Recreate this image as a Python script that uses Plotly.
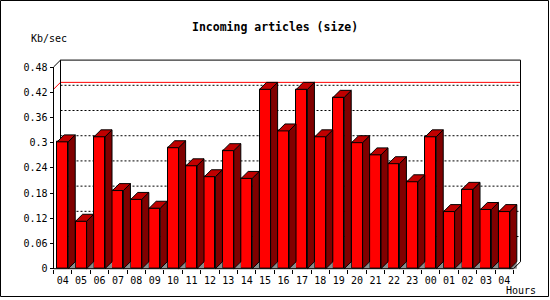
import plotly.graph_objects as go

# ---------------- data ----------------
hours = ["04", "05", "06", "07", "08", "09", "10", "11", "12", "13", "14", "15", "16",
         "17", "18", "19", "20", "21", "22", "23", "00", "01", "02", "03", "04"]
values = [0.302, 0.113, 0.314, 0.186, 0.165, 0.144, 0.288, 0.245, 0.219, 0.281, 0.215, 0.427, 0.328,
          0.427, 0.314, 0.408, 0.300, 0.271, 0.250, 0.207, 0.314, 0.136, 0.189, 0.141, 0.136]
y_ticks = [0, 0.06, 0.12, 0.18, 0.24, 0.30, 0.36, 0.42, 0.48]
y_ticktext = ["0", "0.06", "0.12", "0.18", "0.24", "0.3", "0.36", "0.42", "0.48"]
title = "Incoming articles (size)"
y_title = "Kb/sec"
x_title = "Hours"

# ---------------- geometry (style) ----------------
W, H = 550, 300
X0 = 53.5          # front plane left pixel
CW = 18.4          # category width in px
Y0 = 270.5         # pixel of value 0 (front)
PXU = 422.9        # px per value unit
D = 7.0            # 3D depth in px
BW = 0.6           # bar front width (category units)
YMAX = 0.48

ddx = D / CW
ddy = D / PXU
n = len(values)

# plot area in pixels (slightly larger than the 3D box so edges are not clipped)
PL, PR, PT, PB = 50.0, 524.0, 57.0, 274.0
xr = [(PL - X0) / CW - 0.5, (PR - X0) / CW - 0.5]
yr = [(Y0 - PB) / PXU, (Y0 - PT) / PXU]

FRONT = "#FF0000"
TOP = "#C00000"
SIDE = "#800000"
FLOOR = "#8C8C8C"

fig = go.Figure()

# front faces
fig.add_trace(go.Bar(
    x=list(range(n)), y=values, width=BW,
    marker=dict(color=FRONT, line=dict(color="black", width=1)),
    hoverinfo="skip", showlegend=False))

# floor shadow triangles, side faces, top faces (computed from the values)
fx, fy, sx, sy, tx, ty = [], [], [], [], [], []
for i, v in enumerate(values):
    xl = i - BW / 2
    xrr = i + BW / 2
    fx += [xrr, xrr + ddx, xrr + ddx, xrr, None]
    fy += [0, ddy, 0, 0, None]
    sx += [xrr, xrr + ddx, xrr + ddx, xrr, xrr, None]
    sy += [v, v + ddy, ddy, 0, v, None]
    tx += [xl, xl + ddx, xrr + ddx, xrr, xl, None]
    ty += [v, v + ddy, v + ddy, v, v, None]

fig.add_trace(go.Scatter(x=fx, y=fy, mode="lines", fill="toself", fillcolor=FLOOR,
                         line=dict(color=FLOOR, width=0), hoverinfo="skip", showlegend=False))
fig.add_trace(go.Scatter(x=sx, y=sy, mode="lines", fill="toself", fillcolor=SIDE,
                         line=dict(color="black", width=1), hoverinfo="skip", showlegend=False))
fig.add_trace(go.Scatter(x=tx, y=ty, mode="lines", fill="toself", fillcolor=TOP,
                         line=dict(color="black", width=1), hoverinfo="skip", showlegend=False))

shapes = []
xa, xb = -0.5, n - 0.5
# dotted grid on back plane
for v in y_ticks[1:-1]:
    shapes.append(dict(type="line", xref="x", yref="y", x0=xa + ddx, x1=xb + ddx, y0=v + ddy, y1=v + ddy,
                       line=dict(color="black", width=1, dash="2px,2px"), layer="below"))
# max line (red)
vmax = max(values)
shapes.append(dict(type="line", xref="x", yref="y", x0=xa + ddx, x1=xb + ddx, y0=vmax + ddy, y1=vmax + ddy,
                   line=dict(color="#FF0000", width=1), layer="below"))
shapes.append(dict(type="line", xref="x", yref="y", x0=xa, x1=xa + ddx, y0=vmax, y1=vmax + ddy,
                   line=dict(color="#FF0000", width=1), layer="below"))
# back plane box
box = [
    (xa + ddx, ddy, xa + ddx, YMAX + ddy),
    (xa + ddx, YMAX + ddy, xb + ddx, YMAX + ddy),
    (xb + ddx, YMAX + ddy, xb + ddx, ddy),
]
for (a, b, c, d) in box:
    shapes.append(dict(type="line", xref="x", yref="y", x0=a, y0=b, x1=c, y1=d,
                       line=dict(color="black", width=1), layer="below"))
# front axes and wall edges
front = [
    (xa, 0, xa, YMAX),
    (xa, YMAX, xa + ddx, YMAX + ddy),
    (xa, 0, xb, 0),
    (xb, 0, xb + ddx, ddy),
]
for (a, b, c, d) in front:
    shapes.append(dict(type="line", xref="x", yref="y", x0=a, y0=b, x1=c, y1=d,
                       line=dict(color="black", width=1), layer="above"))
# image frame
shapes.append(dict(type="rect", xref="paper", yref="paper",
                   x0=0.5 / W, x1=548.5 / W, y0=1 - 298.5 / H, y1=1 - 0.5 / H,
                   line=dict(color="black", width=1), layer="above"))

mono = "DejaVu Sans Mono"
annotations = [
    dict(text="<b>" + title + "</b>", x=275 / W, y=1 - 27 / H, xref="paper", yref="paper",
         showarrow=False, xanchor="center", yanchor="middle",
         font=dict(family=mono, size=11.5, color="black")),
    dict(text=y_title, x=29 / W, y=1 - 38.5 / H, xref="paper", yref="paper",
         showarrow=False, xanchor="left", yanchor="middle",
         font=dict(family=mono, size=10, color="black")),
    dict(text=x_title, x=504 / W, y=1 - 292.5 / H, xref="paper", yref="paper",
         showarrow=False, xanchor="left", yanchor="middle",
         font=dict(family=mono, size=10, color="black")),
]

fig.update_layout(
    width=W, height=H,
    margin=dict(l=0, r=0, t=0, b=0),
    paper_bgcolor="white", plot_bgcolor="white",
    showlegend=False,
    shapes=shapes,
    annotations=annotations,
    bargap=0,
    xaxis=dict(
        domain=[PL / W, PR / W], range=xr, anchor="free", position=1 - Y0 / H,
        tickmode="array", tickvals=list(range(n)), ticktext=hours,
        ticks="outside", ticklen=0, ticklabelstandoff=2,
        showgrid=False, zeroline=False, showline=False,
        tickfont=dict(family=mono, size=10, color="black"),
        minor=dict(tickvals=[i - 0.5 for i in range(n + 1)], ticks="outside", ticklen=4,
                   tickcolor="black", tickwidth=1, showgrid=False),
        fixedrange=True,
    ),
    yaxis=dict(
        domain=[1 - PB / H, 1 - PT / H], range=yr, anchor="free", position=X0 / W,
        tickmode="array", tickvals=y_ticks, ticktext=y_ticktext,
        ticks="outside", ticklen=4, tickcolor="black", tickwidth=1,
        showgrid=False, zeroline=False, showline=False,
        tickfont=dict(family=mono, size=10, color="black"),
        fixedrange=True,
    ),
)

fig.write_html("out.html")
